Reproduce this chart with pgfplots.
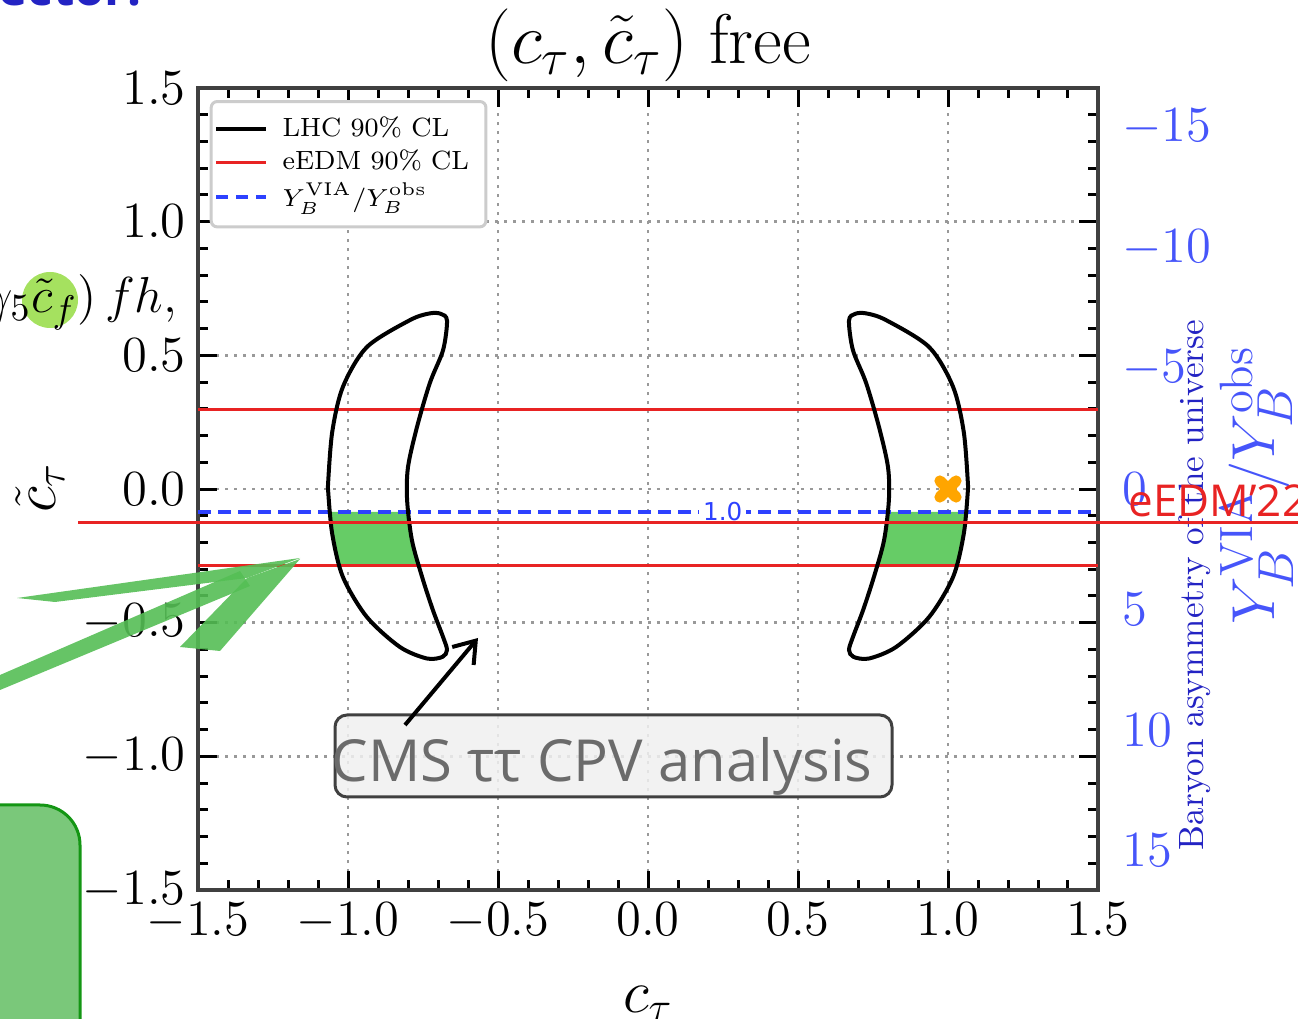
\documentclass[border=0pt]{standalone}
\usepackage{pgfplots}
\pgfplotsset{compat=1.18}
\usepackage{fontspec}
\newfontfamily\slidesans{Open Sans}
\newfontfamily\clabelfont{DejaVu Sans}
\usetikzlibrary{arrows.meta}

\definecolor{lhcfill}{RGB}{102,204,102}
\definecolor{edmred}{RGB}{232,35,35}
\definecolor{ybblue}{RGB}{45,65,255}
\definecolor{axblue}{RGB}{70,85,250}
\definecolor{xorange}{RGB}{255,165,0}
\definecolor{slideblue}{RGB}{35,35,195}
\definecolor{slidegreen}{RGB}{85,190,85}
\definecolor{circgreen}{RGB}{165,225,95}
\definecolor{boxgreen}{RGB}{122,200,122}
\definecolor{boxedge}{RGB}{20,150,20}

% LHC 90% CL contour, left lobe (right lobe is its mirror image)
\pgfplotstableread{
x y
-1.067 0.007
-1.053 0.210
-1.017 0.382
-0.937 0.531
-0.793 0.632
-0.727 0.657
-0.690 0.655
-0.670 0.630
-0.683 0.520
-0.727 0.397
-0.770 0.232
-0.800 0.082
-0.803 -0.041
-0.787 -0.191
-0.753 -0.329
-0.717 -0.453
-0.683 -0.554
-0.670 -0.602
-0.685 -0.628
-0.737 -0.634
-0.827 -0.591
-0.937 -0.479
-1.017 -0.329
-1.053 -0.165
-1.067 0.007
}\lhcleft
\pgfplotstableread{
x y
1.067 0.007
1.053 0.210
1.017 0.382
0.937 0.531
0.793 0.632
0.727 0.657
0.690 0.655
0.670 0.630
0.683 0.520
0.727 0.397
0.770 0.232
0.800 0.082
0.803 -0.041
0.787 -0.191
0.753 -0.329
0.717 -0.453
0.683 -0.554
0.670 -0.602
0.685 -0.628
0.737 -0.634
0.827 -0.591
0.937 -0.479
1.017 -0.329
1.053 -0.165
1.067 0.007
}\lhcright

\begin{document}
\begin{tikzpicture}
\path[use as bounding box] (0,0) rectangle (129.8mm,101.8mm);

% slide material behind the plot
\begin{scope}[x=0.1mm,y=0.1mm]
  \node[anchor=base west, inner sep=0, text=slideblue, font=\slidesans\bfseries\fontsize{14}{16}\selectfont] at (-2,1012) {ector:};
  \fill[circgreen] (50,718) circle (28);
  \node[anchor=base east, inner sep=0, font=\fontsize{15.5}{18}\selectfont] at (178,705) {$i\gamma_5\tilde{c}_f)\,fh,$};
  \node[font=\fontsize{20}{22}\selectfont] at (648,973) {$(c_\tau,\tilde{c}_\tau)$ free};
  \node[anchor=base, font=\fontsize{18}{20}\selectfont] at (648,6) {$c_\tau$};
  \node[rotate=90, font=\fontsize{18}{20}\selectfont] at (40,530) {$\tilde{c}_\tau$};
\end{scope}

\begin{axis}[
  at={(19.8mm,12.8mm)}, anchor=south west,
  scale only axis, width=90mm, height=80.2mm,
  xmin=-1.5, xmax=1.5, ymin=-1.5, ymax=1.5,
  xtick={-1.5,-1.0,-0.5,0,0.5,1.0,1.5},
  ytick={-1.5,-1.0,-0.5,0,0.5,1.0,1.5},
  minor tick num=4,
  tick align=inside,
  major tick length=1.9mm, minor tick length=1.0mm,
  every tick/.style={black, line width=0.3mm},
  axis line style={black!75, line width=0.45mm},
  grid=major,
  major grid style={gray!80, line width=0.25mm, dash pattern=on 0.3mm off 0.6mm},
  tick label style={font=\fontsize{14}{16}\selectfont},
  xticklabel style={/pgf/number format/.cd, fixed, fixed zerofill, precision=1},
  yticklabel style={/pgf/number format/.cd, fixed, fixed zerofill, precision=1},
  legend cell align=left,
  legend image code/.code={\draw[#1] (0mm,0mm) -- (5mm,0mm);},
  legend style={at={(0.013,0.985)}, anchor=north west, draw=gray!40, line width=0.3mm,
    rounded corners=0.6mm, fill=white, font=\fontsize{7.5}{9}\selectfont,
    row sep=-0.6mm, inner xsep=0.3mm, inner ysep=0.8mm,
    nodes={inner xsep=1.4mm}},
]
\addlegendimage{black, line width=0.45mm}
\addlegendentry{LHC 90\% CL}
\addlegendimage{edmred, line width=0.3mm}
\addlegendentry{eEDM 90\% CL}
\addlegendimage{ybblue, line width=0.4mm, dash pattern=on 1.2mm off 0.8mm}
\addlegendentry{$Y_B^{\mathrm{VIA}}/Y_B^{\mathrm{obs}}$}

% allowed region
\addplot[fill=lhcfill, draw=none, forget plot] coordinates {(-1.060,-0.086) (-1.053,-0.165) (-1.026,-0.288) (-0.763,-0.288) (-0.787,-0.191) (-0.798,-0.086)};
\addplot[fill=lhcfill, draw=none, forget plot] coordinates {(1.060,-0.086) (1.053,-0.165) (1.026,-0.288) (0.763,-0.288) (0.787,-0.191) (0.798,-0.086)};

% eEDM 90% CL
\addplot[edmred, line width=0.3mm, forget plot] coordinates {(-1.5,0.296) (1.5,0.296)};
\addplot[edmred, line width=0.3mm, forget plot] coordinates {(-1.5,-0.288) (1.5,-0.288)};

% Y_B^VIA / Y_B^obs = 1 contour
\addplot[ybblue, line width=0.4mm, dash pattern=on 1.3mm off 0.7mm, forget plot] coordinates {(-1.5,-0.086) (1.5,-0.086)}
  node[pos=0.583, fill=white, inner sep=0.4mm, text=ybblue, font=\clabelfont\fontsize{7}{8}\selectfont] {1.0};

% LHC 90% CL
\addplot[black, line width=0.4mm, smooth, tension=0.5, forget plot] table {\lhcleft};
\addplot[black, line width=0.4mm, smooth, tension=0.5, forget plot] table {\lhcright};

% SM point
\addplot[only marks, mark=x, mark size=1.15mm, xorange, line width=1.1mm, mark options={line cap=round}, forget plot] coordinates {(1.0,0.0)};
\end{axis}

\begin{axis}[
  at={(19.8mm,12.8mm)}, anchor=south west,
  scale only axis, width=90mm, height=80.2mm,
  xmin=-1.5, xmax=1.5, ymin=-16.64, ymax=16.64, y dir=reverse,
  axis y line*=right, hide x axis,
  y axis line style={draw=none},
  ytick={-15,-10,-5,0,5,10,15},
  ytick style={draw=none}, major tick length=0pt,
  yticklabel style={text=axblue, font=\fontsize{14}{16}\selectfont, xshift=1.2mm},
]
\addplot[draw=none] coordinates {(0,0)};
\end{axis}

% slide material on top of the plot
\begin{scope}[x=0.1mm,y=0.1mm]
  \node[rotate=90, text=axblue, font=\fontsize{19}{22}\selectfont] at (1256,533) {$Y_B^{\mathrm{VIA}}/Y_B^{\mathrm{obs}}$};
  \node[rotate=90, text=slideblue, font=\fontsize{10}{12}\selectfont] at (1195,433) {Baryon asymmetry of the universe};
  \draw[edmred, line width=0.3mm] (78,495) -- (1298,495);
  \node[anchor=base west, inner sep=0, text=edmred, font=\slidesans\fontsize{12.5}{14}\selectfont] at (1128,501) {eEDM’22};
  \node[draw=black!75, line width=0.3mm, fill=gray!12, fill opacity=0.85,
    rounded corners=1.2mm, minimum width=55.7mm, minimum height=8.2mm, inner sep=0] at (613.5,262) {};
  \node[anchor=base, inner sep=0, text=black!58, font=\slidesans\fontsize{16.5}{18}\selectfont] at (602,236) {CMS ττ CPV analysis};
  \draw[line width=0.4mm, -{Straight Barb[length=2mm, width=2.8mm]}] (405,293) -- (478,380);
  \begin{scope}[opacity=0.9]
    \fill[slidegreen] (17,420) -- (300,460) -- (247,440) -- (55,416) -- cycle;
    \fill[slidegreen] (300,459) -- (220,367) -- (180,371) -- (247,440) -- cycle;
    \fill[slidegreen] (0,343) -- (240,447) -- (250,432) -- (0,328) -- cycle;
  \end{scope}
  \draw[boxedge, fill=boxgreen, line width=0.3mm, rounded corners=4mm] (-60,-60) rectangle (80,213);
\end{scope}
\end{tikzpicture}
\end{document}
